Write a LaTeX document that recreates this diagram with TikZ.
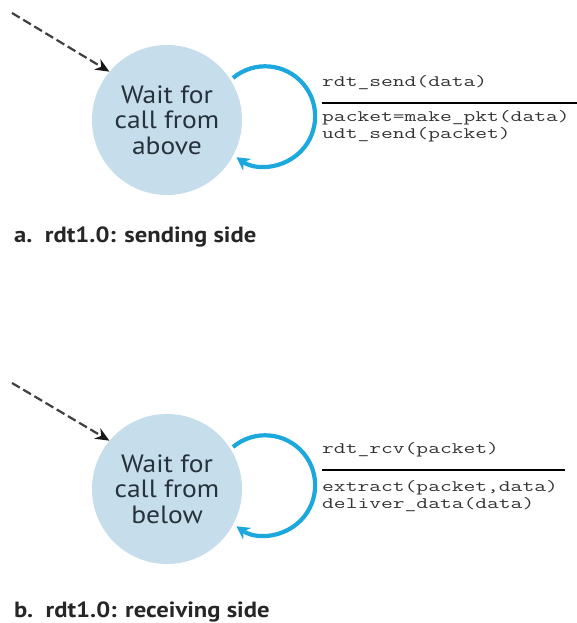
\documentclass[tikz,border=0pt]{standalone}
\usepackage{fontspec}
\setmainfont{PT Sans}
\newfontfamily\codefont[FakeStretch=1.43]{Latin Modern Mono}
\newfontfamily\capfont[FakeStretch=1.12]{PT Sans}
\newfontfamily\statefont[FakeStretch=1.1]{PT Sans}
\usetikzlibrary{arrows.meta}
\definecolor{statefill}{HTML}{C6DDEB}
\definecolor{loopblue}{HTML}{1CA8DD}
\definecolor{statetext}{HTML}{26323C}
\definecolor{codetext}{HTML}{333333}
\tikzset{
  state/.style={circle, fill=statefill, minimum size=150pt, inner sep=0pt,
    text=statetext, font=\statefont\fontsize{25}{25.5}\selectfont, align=center},
  initarrow/.style={dashed, dash pattern=on 9pt off 4pt, line width=2.2pt, draw=black!75,
    -{Stealth[length=14pt,width=12pt,color=black!90]}},
  selfloop/.style={draw=loopblue, line width=4.2pt, -{Stealth[length=13pt,width=14pt]}},
  code/.style={anchor=west, inner sep=0pt, text=codetext, font=\codefont\fontsize{16}{17}\selectfont},
  caption/.style={anchor=west, inner sep=0pt, text=black!85, font=\capfont\bfseries\fontsize{22}{24}\selectfont},
  rule/.style={line width=1.3pt, draw=black}
}
\begin{document}
\begin{tikzpicture}[x=1pt,y=1pt]
\useasboundingbox (0,0) rectangle (577,623);
% ---- sending side ----
\node[state] (c1) at (167,503) {Wait for\\call from\\above};
\coordinate (s1) at (12,610);
\draw[initarrow] (s1) -- (c1.140);
\coordinate (l1s) at (233,545);
\draw[selfloop] (l1s) arc[start angle=130, end angle=-125, radius=50];
\node[code] (e1) at (322,540) {rdt\_send(data)};
\coordinate (r1a) at (322,520);
\coordinate (r1b) at (577,520);
\draw[rule] (r1a) -- (r1b);
\node[code] (a1) at (322,505) {packet=make\_pkt(data)};
\node[code] (a2) at (322,488) {udt\_send(packet)};
\node[caption] (cap1) at (14,386) {a.\ \ rdt1.0: sending side};
% ---- receiving side ----
\node[state] (c2) at (167,134) {Wait for\\call from\\below};
\coordinate (s2) at (12,240);
\draw[initarrow] (s2) -- (c2.140);
\coordinate (l2s) at (233,176);
\draw[selfloop] (l2s) arc[start angle=130, end angle=-125, radius=50];
\node[code] (e2) at (322,173) {rdt\_rcv(packet)};
\coordinate (r2a) at (322,153);
\coordinate (r2b) at (565,153);
\draw[rule] (r2a) -- (r2b);
\node[code] (b1) at (322,135) {extract(packet,data)};
\node[code] (b2) at (322,118) {deliver\_data(data)};
\node[caption] (cap2) at (14,11) {b.\ \ rdt1.0: receiving side};
\end{tikzpicture}
\end{document}
